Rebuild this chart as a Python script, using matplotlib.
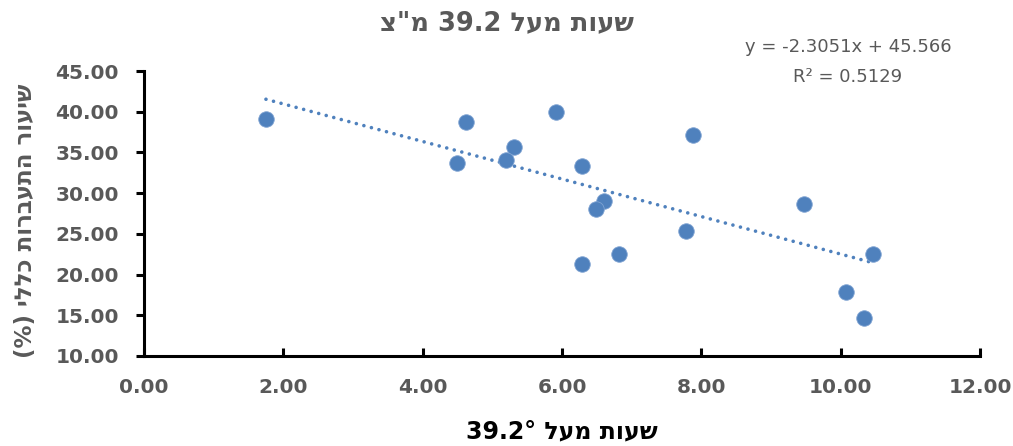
import matplotlib.pyplot as plt
import numpy as np

# נתונים - שעות מעל 39.2 מול שיעור התעברות
hours = [1.75, 4.62, 5.92, 5.31, 4.49, 5.19, 6.29, 6.60, 6.49, 6.82, 6.29,
         7.88, 9.48, 7.78, 10.47, 10.08, 10.33]
conception = [39.07, 38.74, 39.93, 35.63, 33.74, 34.11, 33.29, 29.03, 28.01, 22.49, 21.34,
              37.10, 28.67, 25.35, 22.49, 17.82, 14.67]

# קו מגמה כפי שמופיע בגרף
slope = -2.3051
intercept = 45.566
r2 = 0.5129

x_ticks = [0, 2, 4, 6, 8, 10, 12]
y_ticks = [10, 15, 20, 25, 30, 35, 40, 45]

title_txt = 'שעות מעל 39.2 מ"צ'
xlabel_txt = 'שעות מעל 39.2°'
ylabel_txt = 'שיעור התעברות כללי (%)'


def rtl(s):
    # matplotlib לא הופך טקסט עברי - הופכים ידנית
    out = []
    for w in s.split(' '):
        if any('\u0590' <= c <= '\u05ff' for c in w):
            out.append(w[::-1])
        else:
            out.append(w)
    return ' '.join(out[::-1])


blue = '#4F81BD'
gray = '#595959'
heb_font = 'DejaVu Sans'

fig = plt.figure(figsize=(10.13, 4.46), dpi=100)
ax = fig.add_axes([0.1422, 0.2018, 0.8252, 0.639])

ax.scatter(hours, conception, s=125, color=blue, edgecolors='#7FA3D2', linewidths=0.6, zorder=3)

xs = np.array([min(hours), max(hours)])
ax.plot(xs, slope * xs + intercept, color=blue, lw=2.6,
        linestyle=(0, (0.01, 2.15)), dash_capstyle='round', zorder=2)

ax.set_xlim(0, 12)
ax.set_ylim(10, 45)
ax.set_xticks(x_ticks)
ax.set_yticks(y_ticks)
ax.set_xticklabels([f'{v:.2f}' for v in x_ticks])
ax.set_yticklabels([f'{v:.2f}' for v in y_ticks])

for s in ['top', 'right']:
    ax.spines[s].set_visible(False)
for s in ['left', 'bottom']:
    ax.spines[s].set_linewidth(2.2)
    ax.spines[s].set_color('black')

ax.tick_params(axis='y', direction='out', length=6, width=2.2, pad=12,
               labelsize=14.5, labelcolor=gray)
ax.tick_params(axis='x', direction='in', length=6, width=2.2, pad=16,
               labelsize=14.5, labelcolor=gray)
for lab in ax.get_xticklabels() + ax.get_yticklabels():
    lab.set_fontweight('bold')
    lab.set_family('DejaVu Sans')

fig.text(0.5, 0.948, rtl(title_txt), ha='center', va='center', fontsize=18.5,
         fontweight='bold', color=gray, family=heb_font)
ax.set_xlabel(rtl(xlabel_txt), fontsize=17, fontweight='bold', color='black',
              family=heb_font, labelpad=16)
fig.text(0.025, 0.504, rtl(ylabel_txt), rotation=90, ha='center', va='center',
         fontsize=16.5, fontweight='bold', color=gray, family=heb_font)

fig.text(0.837, 0.895, f'y = {slope}x + {intercept}', ha='center', va='center',
         fontsize=13, color=gray, family='DejaVu Sans')
fig.text(0.837, 0.827, f'R² = {r2}', ha='center', va='center',
         fontsize=13, color=gray, family='DejaVu Sans')

plt.savefig('out.png', dpi=100)
plt.close(fig)
